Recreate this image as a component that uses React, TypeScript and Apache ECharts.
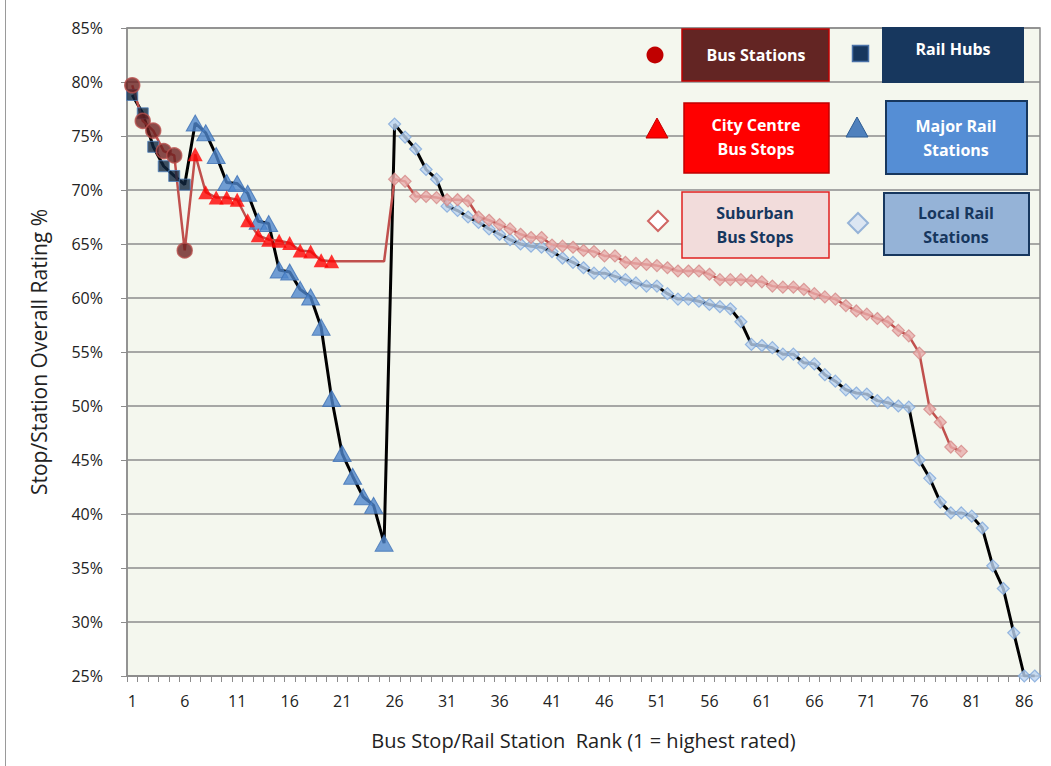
import React, { useEffect, useRef } from "react";
import * as echarts from "echarts";

// Categories: rank 1..87
const ranks: string[] = Array.from({ length: 87 }, (_, i) => String(i + 1));

// Bus series values (%)
const busStations = [79.7, 76.4, 75.5, 73.6, 73.2, 64.4]; // ranks 1-6
const cityCentreBusStops = [73.3, 69.8, 69.3, 69.3, 69.1, 67.2, 65.8, 65.4, 65.3, 65.1, 64.4, 64.3, 63.5, 63.4]; // ranks 7-20
const busConnector = [63.4, 63.4, 63.4, 63.4, 63.4]; // ranks 21-25 (line only)
const suburbanBusStops = [
  71.0, 70.8, 69.4, 69.4, 69.3, 69.1, 69.1, 69.0, 67.5, 67.2,
  66.8, 66.4, 65.9, 65.6, 65.6, 64.9, 64.8, 64.7, 64.4, 64.3,
  63.9, 63.9, 63.3, 63.2, 63.1, 63.0, 62.8, 62.5, 62.5, 62.5,
  62.2, 61.7, 61.7, 61.7, 61.6, 61.5, 61.1, 61.0, 61.0, 60.8,
  60.4, 60.1, 59.9, 59.3, 58.8, 58.5, 58.1, 57.8, 57.0, 56.5,
  54.9, 49.7, 48.5, 46.2, 45.8,
]; // ranks 26-80

// Rail series values (%)
const railHubs = [78.8, 77.1, 74.0, 72.2, 71.3, 70.5]; // ranks 1-6
const majorRailStations = [76.2, 75.3, 73.2, 70.7, 70.6, 69.7, 67.1, 66.9, 62.6, 62.4, 60.8, 60.1, 57.3, 50.7, 45.6, 43.5, 41.6, 40.8, 37.3]; // ranks 7-25
const localRailStations = [
  76.1, 74.9, 73.8, 71.9, 71.0, 68.5, 68.1, 67.5, 67.0, 66.4,
  65.9, 65.4, 65.0, 64.8, 64.7, 64.3, 63.7, 63.3, 62.8, 62.3,
  62.3, 62.0, 61.7, 61.4, 61.1, 61.1, 60.4, 59.9, 59.9, 59.7,
  59.4, 59.2, 59.0, 57.8, 55.7, 55.6, 55.4, 54.8, 54.8, 54.0,
  53.9, 52.9, 52.3, 51.5, 51.2, 51.1, 50.5, 50.3, 50.0, 49.9,
  45.0, 43.3, 41.1, 40.1, 40.1, 39.8, 38.7, 35.2, 33.1, 29.0,
  25.0, 25.0,
]; // ranks 26-87

const busLine = [...busStations, ...cityCentreBusStops, ...busConnector, ...suburbanBusStops];
const railLine = [...railHubs, ...majorRailStations, ...localRailStations];

const toPoints = (vals: number[], startRank: number) => vals.map((v, i) => [startRank - 1 + i, v]);

const FONT = "'Open Sans', Lato, sans-serif";

export default function App() {
  const ref = useRef<HTMLDivElement>(null);
  useEffect(() => {
    if (!ref.current) return;
    const chart = echarts.init(ref.current, undefined, { renderer: "svg" });

    const legendText = (text: string, x: number, y: number, fill: string) => ({
      type: "text",
      z: 100,
      style: { text, x, y, fill, font: `bold 16px ${FONT}`, textAlign: "center", textVerticalAlign: "middle" },
    });

    chart.setOption({
      animation: false,
      backgroundColor: "#ffffff",
      grid: {
        left: 127,
        top: 28,
        right: 11,
        bottom: 90,
        show: true,
        backgroundColor: "#F4F7EE",
        borderColor: "#8C8C8C",
        borderWidth: 1.5,
      },
      xAxis: {
        type: "category",
        data: ranks,
        boundaryGap: true,
        name: "Bus Stop/Rail Station  Rank (1 = highest rated)",
        nameLocation: "middle",
        nameGap: 54,
        nameTextStyle: { fontFamily: FONT, fontSize: 20, color: "#222" },
        axisLine: { show: true, lineStyle: { color: "#8C8C8C", width: 1.5 } },
        axisTick: { show: true, interval: 0, length: 6, lineStyle: { color: "#8C8C8C" } },
        axisLabel: { interval: 4, margin: 17, fontFamily: FONT, fontSize: 16, color: "#222" },
        splitLine: { show: false },
      },
      yAxis: {
        type: "value",
        min: 25,
        max: 85,
        interval: 5,
        name: "Stop/Station Overall Rating %",
        nameLocation: "middle",
        nameGap: 78,
        nameTextStyle: { fontFamily: FONT, fontSize: 21, color: "#222" },
        axisLine: { show: true, lineStyle: { color: "#8C8C8C", width: 1.5 } },
        axisTick: { show: true, length: 6, lineStyle: { color: "#8C8C8C" } },
        axisLabel: { formatter: "{value}%", margin: 24, fontFamily: FONT, fontSize: 16, color: "#222" },
        splitLine: { show: true, lineStyle: { color: "#8C8C8C", width: 1.5 } },
      },
      series: [
        {
          name: "Rail",
          type: "line",
          data: railLine,
          showSymbol: false,
          symbol: "none",
          lineStyle: { color: "#000000", width: 3 },
          z: 2,
        },
        {
          name: "Bus",
          type: "line",
          data: busLine,
          showSymbol: false,
          symbol: "none",
          lineStyle: { color: "#C0504D", width: 2.5 },
          z: 2,
        },
        {
          name: "Rail Hubs",
          type: "scatter",
          data: toPoints(railHubs, 1),
          symbol: "rect",
          symbolSize: 11,
          itemStyle: { color: "#10253F", borderColor: "#4F81BD", borderWidth: 1 },
          z: 3,
        },
        {
          name: "Major Rail Stations",
          type: "scatter",
          data: toPoints(majorRailStations, 7),
          symbol: "triangle",
          symbolSize: [18, 16],
          itemStyle: { color: "#4F86CC", borderColor: "#3F72B5", borderWidth: 1 },
          z: 3,
        },
        {
          name: "Local Rail Stations",
          type: "scatter",
          data: toPoints(localRailStations, 26),
          symbol: "diamond",
          symbolSize: 12,
          itemStyle: { color: "#BCD3F0", borderColor: "#7FA7DB", borderWidth: 1.2 },
          z: 3,
        },
        {
          name: "Bus Stations",
          type: "scatter",
          data: toPoints(busStations, 1),
          symbol: "circle",
          symbolSize: 15,
          itemStyle: { color: "#6B1F1F", borderColor: "#B8504D", borderWidth: 1.5 },
          z: 4,
        },
        {
          name: "City Centre Bus Stops",
          type: "scatter",
          data: toPoints(cityCentreBusStops, 7),
          symbol: "triangle",
          symbolSize: [15, 14],
          itemStyle: { color: "#FF0000" },
          z: 4,
        },
        {
          name: "Suburban Bus Stops",
          type: "scatter",
          data: toPoints(suburbanBusStops, 26),
          symbol: "diamond",
          symbolSize: 12,
          itemStyle: { color: "#E8AEAD", borderColor: "#D58A88", borderWidth: 1.2 },
          z: 4,
        },
      ],
      graphic: [
        { type: "line", shape: { x1: 5.5, y1: 0, x2: 5.5, y2: 766 }, style: { stroke: "#9A9A9A", lineWidth: 1 } },
        // Row 1
        { type: "circle", z: 100, shape: { cx: 655, cy: 55, r: 8.5 }, style: { fill: "#C00000" } },
        { type: "rect", z: 99, shape: { x: 682, y: 29, width: 147, height: 52 }, style: { fill: "#632523", stroke: "#C00000", lineWidth: 1.5 } },
        legendText("Bus Stations", 756, 55, "#FFFFFF"),
        { type: "rect", z: 100, shape: { x: 852.5, y: 45.5, width: 16, height: 16 }, style: { fill: "#17375E", stroke: "#4A72A8", lineWidth: 1.5 } },
        { type: "rect", z: 99, shape: { x: 882, y: 27, width: 142, height: 56 }, style: { fill: "#17375E" } },
        legendText("Rail Hubs", 953, 49, "#FFFFFF"),
        // Row 2
        { type: "polygon", z: 100, shape: { points: [[646, 138], [657, 118], [668, 138]] }, style: { fill: "#FF0000", stroke: "#C00000", lineWidth: 1 } },
        { type: "rect", z: 99, shape: { x: 684, y: 103, width: 145, height: 70 }, style: { fill: "#FF0000", stroke: "#C00000", lineWidth: 1.5 } },
        legendText("City Centre", 756, 125, "#FFFFFF"),
        legendText("Bus Stops", 756, 149, "#FFFFFF"),
        { type: "polygon", z: 100, shape: { points: [[846, 137], [857, 117], [868, 137]] }, style: { fill: "#4F81BD", stroke: "#2E5C92", lineWidth: 1 } },
        { type: "rect", z: 99, shape: { x: 886, y: 101, width: 141, height: 73 }, style: { fill: "#558ED5", stroke: "#17375E", lineWidth: 2 } },
        legendText("Major Rail", 956, 126, "#FFFFFF"),
        legendText("Stations", 956, 150, "#FFFFFF"),
        // Row 3
        { type: "polygon", z: 100, shape: { points: [[658, 211], [668, 221], [658, 231], [648, 221]] }, style: { fill: "#FFFFFF", stroke: "#D06664", lineWidth: 2 } },
        { type: "rect", z: 99, shape: { x: 682, y: 192, width: 147, height: 66 }, style: { fill: "#F2DCDB", stroke: "#E02020", lineWidth: 1.5 } },
        legendText("Suburban", 755, 213, "#17375E"),
        legendText("Bus Stops", 755, 237, "#17375E"),
        { type: "polygon", z: 100, shape: { points: [[858, 213], [868, 223], [858, 233], [848, 223]] }, style: { fill: "#DCE6F2", stroke: "#95B3D7", lineWidth: 2 } },
        { type: "rect", z: 99, shape: { x: 884, y: 193, width: 145, height: 62 }, style: { fill: "#95B3D7", stroke: "#17375E", lineWidth: 2 } },
        legendText("Local Rail", 956, 213, "#17375E"),
        legendText("Stations", 956, 237, "#17375E"),
      ],
    });
    return () => chart.dispose();
  }, []);
  return <div ref={ref} style={{ position: "fixed", left: 0, top: 0, width: 1051, height: 766 }} />;
}
